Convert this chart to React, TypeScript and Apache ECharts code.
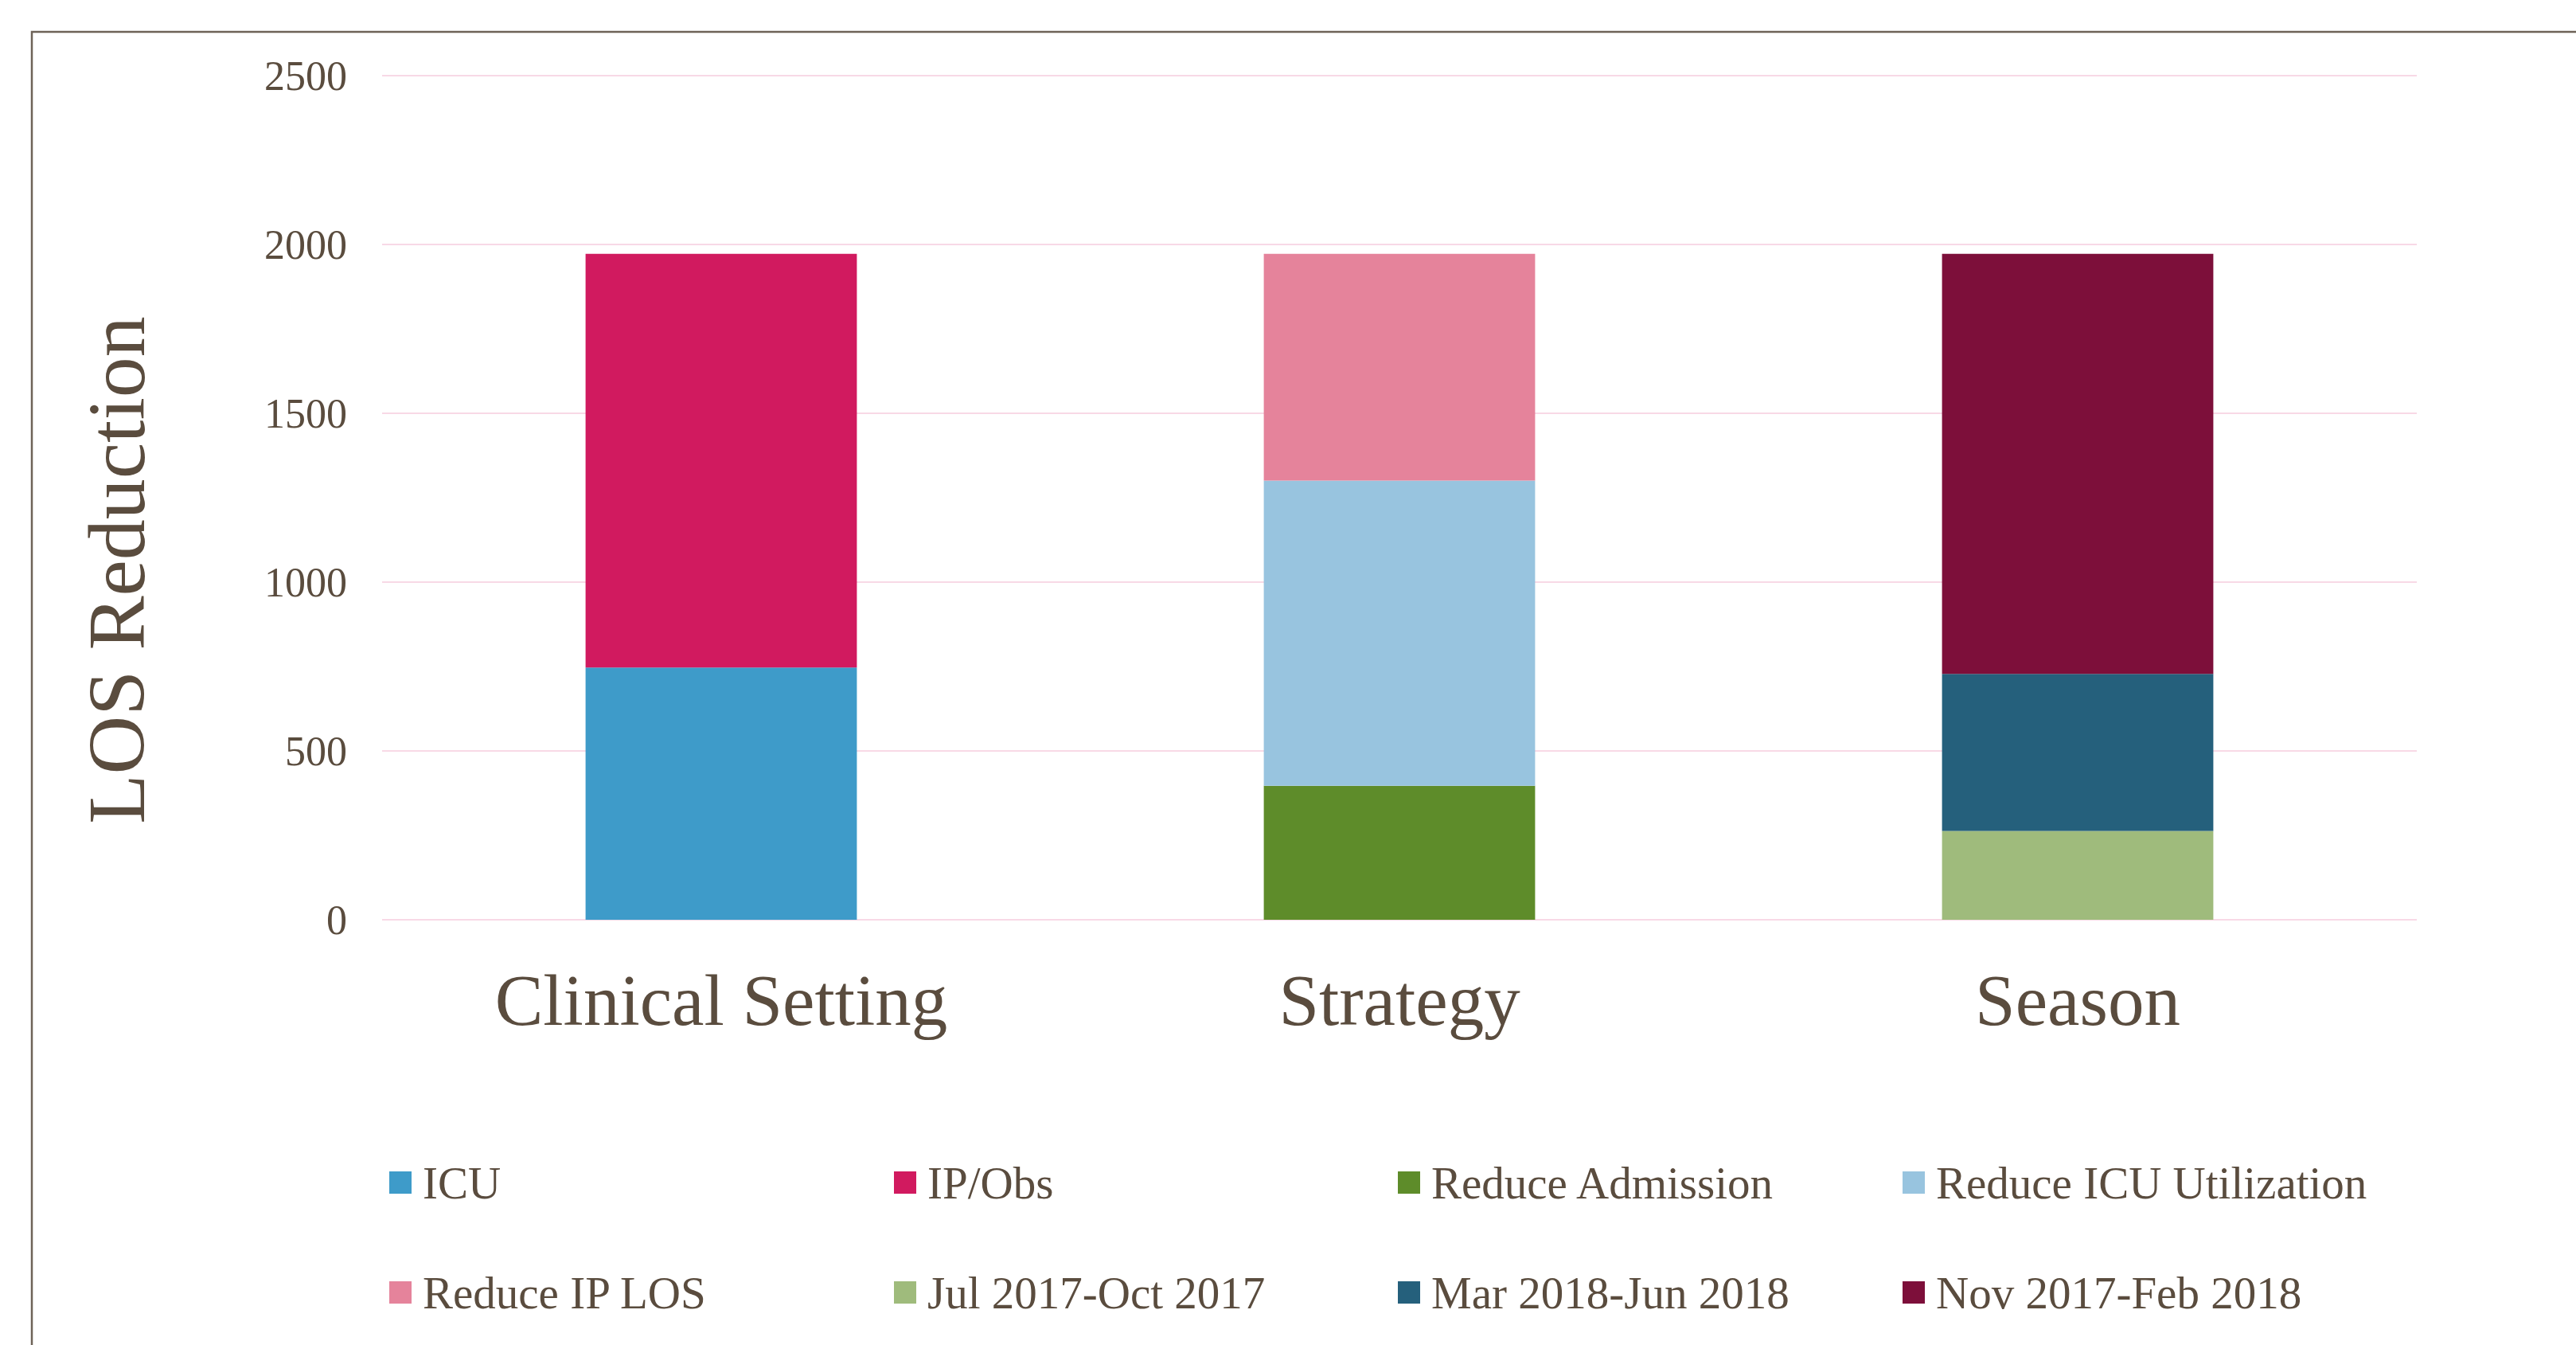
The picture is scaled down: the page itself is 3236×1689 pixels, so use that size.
import React, { useEffect, useRef } from "react";
import * as echarts from "echarts";

const categories = ["Clinical Setting", "Strategy", "Season"];
const yTicks = [0, 500, 1000, 1500, 2000, 2500];
const yTitle = "LOS Reduction";

const icu = [747, null, null];
const ipObs = [1225, null, null];
const reduceAdmission = [null, 397, null];
const reduceIcuUtil = [null, 904, null];
const reduceIpLos = [null, 671, null];
const jul2017 = [null, null, 263];
const mar2018 = [null, null, 465];
const nov2017 = [null, null, 1244];

const seriesNames = [
  "ICU",
  "IP/Obs",
  "Reduce Admission",
  "Reduce ICU Utilization",
  "Reduce IP LOS",
  "Jul 2017-Oct 2017",
  "Mar 2018-Jun 2018",
  "Nov 2017-Feb 2018",
];
const seriesValues = [icu, ipObs, reduceAdmission, reduceIcuUtil, reduceIpLos, jul2017, mar2018, nov2017];
const seriesColors = ["#3e9bc9", "#d11a5f", "#5e8c2a", "#98c4df", "#e5839b", "#9fbb7c", "#25607c", "#7d0f3a"];

const legendColumns = [
  ["ICU", "Reduce IP LOS"],
  ["IP/Obs", "Jul 2017-Oct 2017"],
  ["Reduce Admission", "Mar 2018-Jun 2018"],
  ["Reduce ICU Utilization", "Nov 2017-Feb 2018"],
];
const legendLefts = [489, 1123, 1756, 2390];

const FONT = "'Liberation Serif', 'DejaVu Serif', serif";
const TEXT = "#5a4c3e";

export default function App() {
  const ref = useRef<HTMLDivElement>(null);
  useEffect(() => {
    if (!ref.current) return;
    const chart = echarts.init(ref.current, undefined, { renderer: "svg" });
    chart.setOption({
      animation: false,
      backgroundColor: "#ffffff",
      textStyle: { fontFamily: FONT, color: TEXT },
      grid: { left: 480, right: 200, top: 95, bottom: 1689 - 1155, containLabel: false },
      graphic: [
        {
          type: "rect",
          shape: { x: 40, y: 40, width: 4000, height: 4000 },
          style: { fill: "none", stroke: "#6e6358", lineWidth: 2.5 },
          silent: true,
        },
        {
          type: "text",
          x: 146,
          y: 716,
          rotation: Math.PI / 2,
          silent: true,
          style: {
            text: yTitle,
            font: `102px ${FONT}`,
            fill: TEXT,
            align: "center",
            verticalAlign: "middle",
          },
        },
      ],
      legend: legendColumns.map((col, i) => ({
        orient: "vertical",
        left: legendLefts[i],
        top: 1455,
        padding: 0,
        itemWidth: 28,
        itemHeight: 28,
        itemGap: 78,
        icon: "rect",
        selectedMode: false,
        data: col,
        textStyle: {
          fontFamily: FONT,
          fontSize: 57,
          lineHeight: 60,
          color: TEXT,
          padding: [0, 0, 0, 9],
        },
      })),
      xAxis: {
        type: "category",
        data: categories,
        axisLine: { show: false },
        axisTick: { show: false },
        axisLabel: {
          fontFamily: FONT,
          fontSize: 91,
          lineHeight: 91,
          color: TEXT,
          margin: 56,
        },
      },
      yAxis: {
        type: "value",
        min: yTicks[0],
        max: yTicks[yTicks.length - 1],
        interval: 500,
        axisLine: { show: false },
        axisTick: { show: false },
        axisLabel: {
          fontFamily: FONT,
          fontSize: 52,
          color: TEXT,
          margin: 44,
          formatter: (v: number) => String(v),
        },
        splitLine: { lineStyle: { color: "#f8d9e6", width: 2 } },
      },
      series: seriesNames.map((name, i) => ({
        name,
        type: "bar",
        stack: "total",
        barWidth: "40%",
        data: seriesValues[i].map((v) => (v === null ? "-" : v)),
        itemStyle: { color: seriesColors[i] },
      })),
    });
    return () => chart.dispose();
  }, []);
  return (
    <div
      ref={ref}
      style={{ position: "fixed", left: 0, top: 0, width: 3236, height: 1689, background: "#fff" }}
    />
  );
}
